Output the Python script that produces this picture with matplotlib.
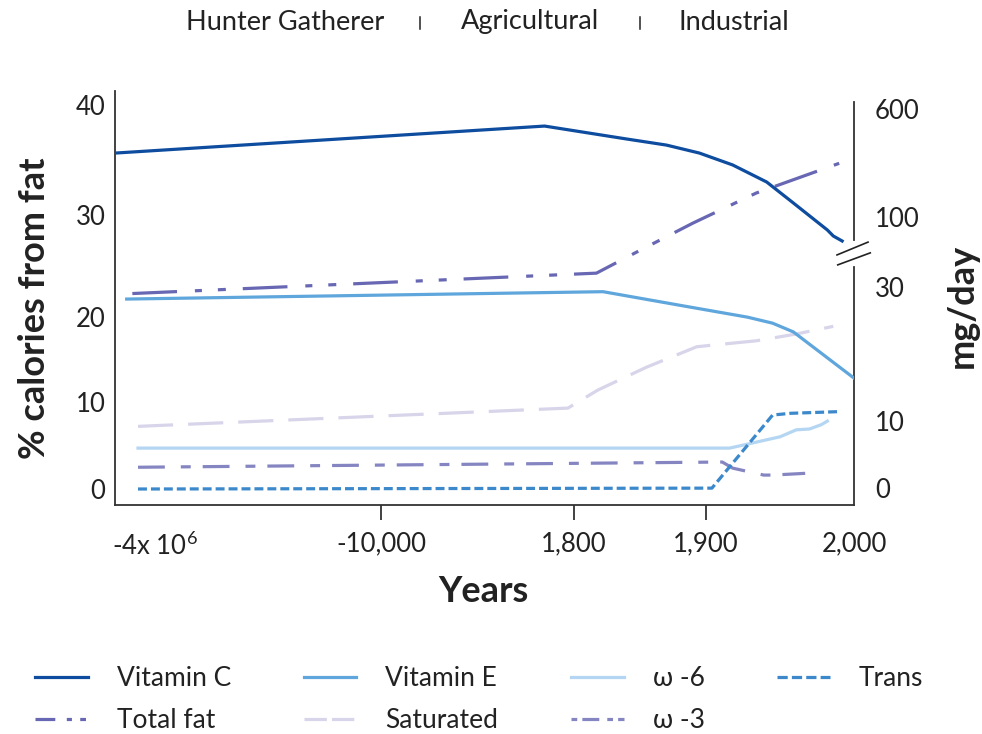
import numpy as np
import matplotlib
matplotlib.use("Agg")
import matplotlib.pyplot as plt
from matplotlib.lines import Line2D

plt.rcParams["font.family"] = ["Lato", "DejaVu Sans"]
plt.rcParams["mathtext.fontset"] = "custom"
plt.rcParams["mathtext.rm"] = "Lato"

# ============================================================
# Data (years / % calories / mg per day)
# ============================================================

year_ticks = [-4e6, -10000, 1800, 1900, 2000]
year_labels = ["-4x 10$^{6}$", "-10,000", "1,800", "1,900", "2,000"]

pct_ticks = [0, 10, 20, 30, 40]
mg_ticks = [0, 10, 30, 100, 600]

# mg/day (right axis)
vitc_years = [-4.7e6, 0, 1840, 1870, 1895, 1918, 1941, 1959, 1982, 1986, 1992]
vitc_mg = [396, 521, 461, 433, 396, 341, 262, 165, 87, 81, 76]

vite_years = [-4.5e6, 1822, 1888, 1928, 1945, 1959, 2000]
vite_mg = [28.2, 29.3, 27.0, 25.5, 24.6, 23.3, 16.4]

# % calories from fat (left axis)
total_years = [-4.4e6, 1817, 1848, 1890, 1934, 1990]
total_pct = [22.3, 24.3, 26.4, 29.2, 32.0, 34.7]

sat_years = [-4.3e6, 1430, 1818, 1855, 1893, 1905, 1934, 1961, 1986]
sat_pct = [7.2, 9.3, 11.4, 14.1, 16.5, 16.7, 17.2, 18.0, 18.9]

w6_years = [-4.3e6, 1909, 1916, 1950, 1961, 1970, 1978, 1982]
w6_pct = [4.7, 4.7, 4.7, 6.0, 6.8, 6.9, 7.4, 7.8]

w3_years = [-4.3e6, 1911, 1918, 1939, 1945, 1967]
w3_pct = [2.5, 3.1, 2.4, 1.6, 1.6, 1.8]

trans_years = [-4.3e6, 1904, 1945, 1957, 1991]
trans_pct = [0.0, 0.1, 8.5, 8.7, 8.9]

eras = ["Hunter Gatherer", "Agricultural", "Industrial"]

# colours
C_VITC = "#0d4c9e"
C_VITE = "#5fa6dc"
C_W6 = "#b4d6f2"
C_TRANS = "#3b88cb"
C_TOTAL = "#6767b3"
C_SAT = "#d8d4ea"
C_W3 = "#8585c2"
C_AX = "#333333"
C_TXT = "#222222"

LW = 2.3


# ============================================================
# Piecewise scales (the axes in the original are not linear)
# ============================================================

def piecewise(vals, pos):
    vals = np.asarray(vals, float)
    pos = np.asarray(pos, float)
    v = np.concatenate([[vals[0] - (vals[1] - vals[0]) * 100], vals,
                        [vals[-1] + (vals[-1] - vals[-2]) * 100]])
    p = np.concatenate([[pos[0] - (pos[1] - pos[0]) * 100], pos,
                        [pos[-1] + (pos[-1] - pos[-2]) * 100]])
    return (lambda x: np.interp(x, v, p)), (lambda y: np.interp(y, p, v))


AX_W, AX_H = 739, 414
x_fwd, x_inv = piecewise(year_ticks, [40, 266, 459, 591, 739])
yl_fwd, yl_inv = piecewise(pct_ticks, [16, 103, 188, 290, 400])
yr_fwd, yr_inv = piecewise(mg_ticks, [17, 84, 218, 288, 396])

fig = plt.figure(figsize=(9.82, 7.34), dpi=100)
ax = fig.add_axes([115 / 982, 1 - 505 / 734, AX_W / 982, AX_H / 734])
ax2 = ax.twinx()

ax.set_xscale("function", functions=(x_fwd, x_inv))
ax.set_yscale("function", functions=(yl_fwd, yl_inv))
ax2.set_yscale("function", functions=(yr_fwd, yr_inv))
ax.set_xlim(x_inv(0), x_inv(AX_W))
ax.set_ylim(yl_inv(0), yl_inv(AX_H))
ax2.set_ylim(yr_inv(0), yr_inv(AX_H))

# ============================================================
# Lines
# ============================================================

ax.plot(sat_years, sat_pct, color=C_SAT, lw=LW, dashes=(11, 4.7))
ax.plot(w6_years, w6_pct, color=C_W6, lw=LW)
ax.plot(w3_years, w3_pct, color=C_W3, lw=LW, dashes=(8.4, 5, 3.1, 3.75))
ax.plot(trans_years, trans_pct, color=C_TRANS, lw=LW, dashes=(2.8, 1.25))
ax.plot(total_years, total_pct, color=C_TOTAL, lw=LW,
        dashes=(14, 5.6, 2.2, 5, 2.5, 5.3))
ax2.plot(vite_years, vite_mg, color=C_VITE, lw=LW)
ax2.plot(vitc_years, vitc_mg, color=C_VITC, lw=LW)

# ============================================================
# Axes styling
# ============================================================

for a in (ax, ax2):
    for s in a.spines.values():
        s.set_visible(False)
ax.spines["left"].set_visible(True)
ax.spines["bottom"].set_visible(True)
for s in ("left", "bottom"):
    ax.spines[s].set_color(C_AX)
    ax.spines[s].set_linewidth(1.3)

ax.set_xticks(year_ticks)
ax.set_xticklabels(year_labels)
ax.xaxis.set_minor_locator(matplotlib.ticker.NullLocator())
ax.tick_params(axis="x", length=10.8, width=1.3, color=C_AX, pad=8,
               labelsize=18.5, labelcolor=C_TXT)
ticks = ax.xaxis.get_major_ticks()
ticks[0].tick1line.set_visible(False)
ticks[-1].tick1line.set_visible(False)

ax.set_yticks(pct_ticks)
ax.set_yticklabels([str(t) for t in pct_ticks])
ax.yaxis.set_minor_locator(matplotlib.ticker.NullLocator())
ax.tick_params(axis="y", length=0, pad=7, labelsize=18.5, labelcolor=C_TXT)

ax2.set_yticks(mg_ticks)
ax2.set_yticklabels([str(t) for t in mg_ticks])
ax2.yaxis.set_minor_locator(matplotlib.ticker.NullLocator())
ax2.tick_params(axis="y", length=0, pad=15, labelsize=18.5, labelcolor=C_TXT)

# right spine with a break
tr = ax.transAxes
ax.plot([1, 1], [0.973, 0.640], color=C_AX, lw=1.3, transform=tr, clip_on=False)
ax.plot([1, 1], [0.575, 0.0], color=C_AX, lw=1.3, transform=tr, clip_on=False)
ax.plot([0.977, 1.019], [0.604, 0.635], color=C_TXT, lw=1.2, transform=tr, clip_on=False)
ax.plot([0.978, 1.022], [0.580, 0.609], color=C_TXT, lw=1.2, transform=tr, clip_on=False)

# axis titles
fig.text(35 / 982, 1 - 308 / 734, "% calories from fat", rotation=90,
         ha="center", va="center", fontsize=26, fontweight="bold", color=C_TXT)
fig.text(962 / 982, 1 - 306 / 734, "mg/day", rotation=90,
         ha="center", va="center", fontsize=26, fontweight="bold", color=C_TXT)
fig.text(483 / 982, 1 - 592 / 734, "Years",
         ha="center", va="center", fontsize=26, fontweight="bold", color=C_TXT)

# era labels on top
for name, cx in zip(eras, [285, 530, 734]):
    fig.text(cx / 982, 1 - 22 / 734, name, ha="center", va="center",
             fontsize=19.5, color=C_TXT)
for sx in [420, 640]:
    fig.add_artist(Line2D([sx / 982, sx / 982], [1 - 17 / 734, 1 - 29 / 734],
                          color=C_TXT, lw=1.1, transform=fig.transFigure))

# ============================================================
# Legend (proxy handles with shorter dash patterns)
# ============================================================

handles = [
    Line2D([], [], color=C_VITC, lw=LW),
    Line2D([], [], color=C_TOTAL, lw=LW, dashes=(6.2, 3.6, 1.6, 2.6, 1.8, 3)),
    Line2D([], [], color=C_VITE, lw=LW),
    Line2D([], [], color=C_SAT, lw=LW, dashes=(7, 1.6)),
    Line2D([], [], color=C_W6, lw=LW),
    Line2D([], [], color=C_W3, lw=LW, dashes=(1.8, 1.6, 5.3, 2.5)),
    Line2D([], [], color=C_TRANS, lw=LW, dashes=(3.2, 1.3)),
]
labels = ["Vitamin C", "Total fat", "Vitamin E", "Saturated",
          "ω -6", "ω -3", "Trans"]

fig.legend(handles, labels, loc="upper left", bbox_to_anchor=(35 / 982, 0.093),
           ncol=4, frameon=False, fontsize=19, borderpad=0, borderaxespad=0,
           handlelength=2.0, handletextpad=1.1, columnspacing=2.75,
           labelspacing=0.65, labelcolor=C_TXT)

fig.savefig("out.png", dpi=100)
